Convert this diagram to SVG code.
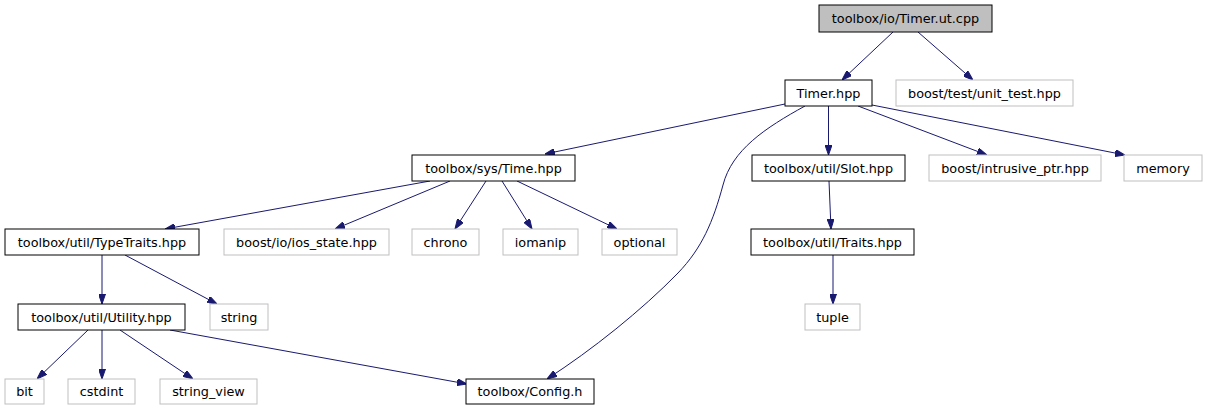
<svg xmlns="http://www.w3.org/2000/svg" width="1207" height="411" viewBox="0 0 1207 411">
<style>
  text { font-family: "DejaVu Sans", sans-serif; font-size: 12.8px; fill: #000; text-anchor: middle; }
  .n rect { fill: #fff; stroke: #000; stroke-width: 1; }
  .x rect { fill: #fff; stroke: #bfbfbf; stroke-width: 1; }
  .r rect { fill: #bfbfbf; stroke: #000; stroke-width: 1; }
  .e { fill: none; stroke: #191970; stroke-width: 1; marker-end: url(#a); }
</style>
<defs>
  <marker id="a" viewBox="0 0 10 7" refX="10" refY="3.5" markerWidth="10" markerHeight="7" markerUnits="userSpaceOnUse" orient="auto">
    <path d="M0,0 L10,3.5 L0,7 z" fill="#191970" stroke="#191970"/>
  </marker>
</defs>
<rect width="1207" height="411" fill="#fff"/>
<g id="edges">
  <path class="e" d="M893,32 L842,80"/>
  <path class="e" d="M918,32 L973,80"/>
  <path class="e" d="M785,104 L545,154"/>
  <path class="e" d="M805,106 C765,128 732,150 723,185 C713,222 702,248 678,273 C642,310 592,350 547,379"/>
  <path class="e" d="M828.5,106 L828.5,155"/>
  <path class="e" d="M858,106 L987,155"/>
  <path class="e" d="M872,105 L1125,155"/>
  <path class="e" d="M430,181 L165,229"/>
  <path class="e" d="M450,181 L335,229"/>
  <path class="e" d="M486,181 L455,229"/>
  <path class="e" d="M502,181 L532,229"/>
  <path class="e" d="M517,181 L617,229"/>
  <path class="e" d="M102,255 L102,304"/>
  <path class="e" d="M125,255 L217,304"/>
  <path class="e" d="M88,330 L37,379"/>
  <path class="e" d="M102,330 L102,379"/>
  <path class="e" d="M120,330 L193,379"/>
  <path class="e" d="M170,330 L467,384"/>
  <path class="e" d="M829,181 L831,229"/>
  <path class="e" d="M833,255 L833,304"/>
</g>
<g id="node1" class="r"><rect x="819" y="5" width="173" height="27"/><text x="905.5" y="23">toolbox/io/Timer.ut.cpp</text></g>
<g id="node2" class="n"><rect x="785" y="80" width="87" height="26"/><text x="828.5" y="97.5">Timer.hpp</text></g>
<g id="node3" class="x"><rect x="896" y="80" width="177" height="26"/><text x="984.5" y="97.5">boost/test/unit_test.hpp</text></g>
<g id="node4" class="n"><rect x="412" y="155" width="163" height="26"/><text x="493.5" y="172.5">toolbox/sys/Time.hpp</text></g>
<g id="node5" class="n"><rect x="752" y="155" width="153" height="26"/><text x="828.5" y="172.5">toolbox/util/Slot.hpp</text></g>
<g id="node6" class="x"><rect x="929" y="155" width="172" height="26"/><text x="1015" y="172.5">boost/intrusive_ptr.hpp</text></g>
<g id="node7" class="x"><rect x="1124" y="155" width="78" height="26"/><text x="1163" y="172.5">memory</text></g>
<g id="node8" class="n"><rect x="5" y="229" width="194" height="26"/><text x="102" y="246.5">toolbox/util/TypeTraits.hpp</text></g>
<g id="node9" class="x"><rect x="224" y="229" width="165" height="26"/><text x="306.5" y="246.5">boost/io/ios_state.hpp</text></g>
<g id="node10" class="x"><rect x="412" y="229" width="67" height="26"/><text x="445.5" y="246.5">chrono</text></g>
<g id="node11" class="x"><rect x="503" y="229" width="75" height="26"/><text x="540.5" y="246.5">iomanip</text></g>
<g id="node12" class="x"><rect x="602" y="229" width="75" height="26"/><text x="639.5" y="246.5">optional</text></g>
<g id="node13" class="n"><rect x="751" y="229" width="163" height="26"/><text x="832.5" y="246.5">toolbox/util/Traits.hpp</text></g>
<g id="node14" class="n"><rect x="18" y="304" width="167" height="26"/><text x="101.5" y="321.5">toolbox/util/Utility.hpp</text></g>
<g id="node15" class="x"><rect x="210" y="304" width="58" height="26"/><text x="239" y="321.5">string</text></g>
<g id="node16" class="x"><rect x="805" y="304" width="55" height="26"/><text x="832.5" y="321.5">tuple</text></g>
<g id="node17" class="x"><rect x="5" y="379" width="39" height="25"/><text x="24.5" y="396">bit</text></g>
<g id="node18" class="x"><rect x="68" y="379" width="67" height="25"/><text x="101.5" y="396">cstdint</text></g>
<g id="node19" class="x"><rect x="160" y="379" width="97" height="25"/><text x="208.5" y="396">string_view</text></g>
<g id="node20" class="n"><rect x="466" y="379" width="128" height="25"/><text x="530" y="396">toolbox/Config.h</text></g>
</svg>
